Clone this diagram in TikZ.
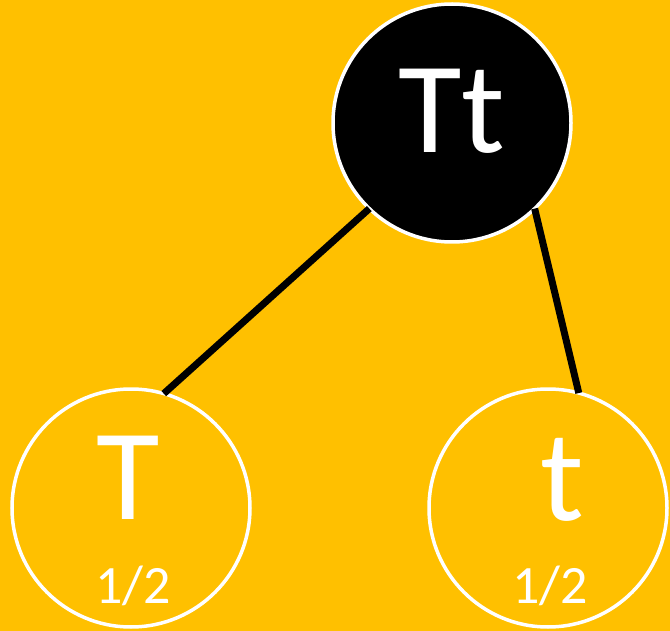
\documentclass[tikz,border=0pt]{standalone}
\usepackage{fontspec}
\setmainfont{Carlito}
\definecolor{bgorange}{HTML}{FFC000}
\begin{document}
\begin{tikzpicture}[x=1pt,y=-1pt,
  ball/.style={circle,draw=white,line width=3.5pt,minimum size=238pt,inner sep=0pt,outer sep=0pt},
  bigtxt/.style={anchor=base,text=white,inner sep=0pt,font=\fontsize{130}{130}\selectfont},
  fractxt/.style={anchor=base,text=white,inner sep=0pt,font=\fontsize{54}{54}\selectfont},
  link/.style={line width=7pt,black}]
\fill[bgorange] (0,0) rectangle (670,631);
\useasboundingbox (0,0) rectangle (670,631);
\node[ball,fill=black] (top) at (452,123) {};
\node[ball,fill=bgorange] (left) at (131,508) {};
\node[ball,fill=bgorange] (right) at (548,508) {};
\draw[link] (top.226) -- (left.74);
\draw[link] (top.314) -- (right.75);
\node[bigtxt] (toptxt) at (452,153) {Tt};
\node[bigtxt] (lefttxt) at (128,519) {T};
\node[bigtxt] (righttxt) at (562,520) {t};
\node[fractxt] (leftfrac) at (133,603) {1/2};
\node[fractxt] (rightfrac) at (550,603) {1/2};
\end{tikzpicture}
\end{document}
